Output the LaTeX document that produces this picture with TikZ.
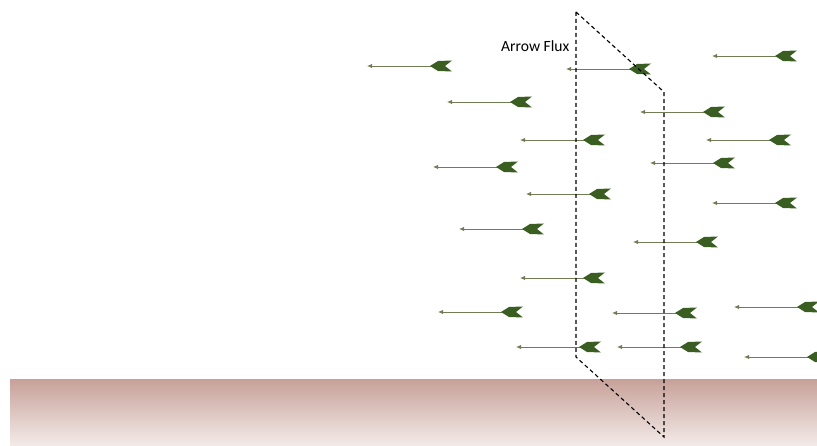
\documentclass[tikz,border=0pt]{standalone}
\usepackage{fontspec}
\setmainfont{Carlito}
\usetikzlibrary{arrows.meta}
\definecolor{fletchgreen}{RGB}{58,94,34}
\definecolor{shaftgreen}{RGB}{112,124,84}
\definecolor{soiltop}{RGB}{200,162,154}
\definecolor{soilbottom}{RGB}{243,234,232}
\def\flyarrow#1#2{
\begin{scope}[shift={(#1,#2)}]
    \draw[shaftgreen, line width=.9pt, -{Latex[length=5pt,width=4.5pt]}] (64,0) -- (0,0);
    \fill[fletchgreen] (63,0) -- (71,-5) -- (85,-5.5) -- (78,0) -- (85,5.5) -- (71,5) -- cycle;
\end{scope}
}

\begin{document}
\begin{tikzpicture}[x=1pt,y=-1pt]
    \useasboundingbox (0,0) rectangle (817,446);
    % ground
    \shade[top color=soiltop, bottom color=soilbottom] (10,380) rectangle (817,445);
    % arrows
    \flyarrow{367}{66};
    \flyarrow{566}{69};
    \flyarrow{712}{56};
    \flyarrow{447}{102};
    \flyarrow{640}{112};
    \flyarrow{520}{140};
    \flyarrow{706}{140};
    \flyarrow{650}{163};
    \flyarrow{433}{167};
    \flyarrow{526}{194};
    \flyarrow{712}{203};
    \flyarrow{459}{229};
    \flyarrow{633}{242};
    \flyarrow{520}{278};
    \flyarrow{734}{307};
    \flyarrow{438}{312};
    \flyarrow{612}{313};
    \flyarrow{516}{347};
    \flyarrow{617}{347};
    \flyarrow{744}{357};
    % flux plane
    \draw[line width=1.1pt, dash pattern=on 4pt off 3pt] (576,12) -- (664,92) -- (664,437) -- (576,357) -- cycle;
    \node[anchor=base west, inner sep=0pt, font=\fontsize{15.6}{18}\selectfont] (fluxlabel) at (501,52) {Arrow Flux};
\end{tikzpicture}
\end{document}
